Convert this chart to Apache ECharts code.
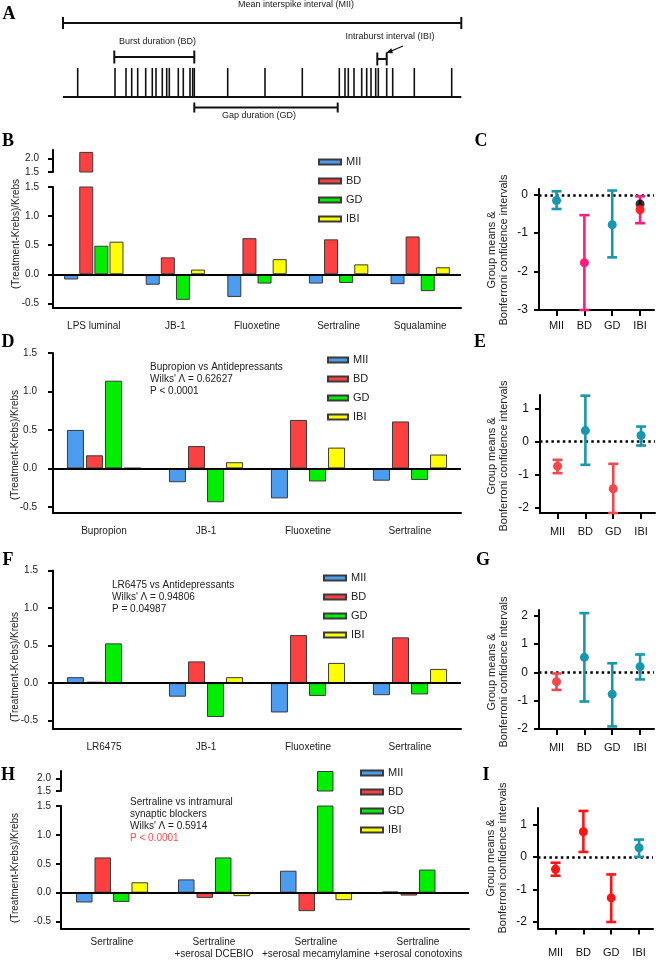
<!DOCTYPE html>
<html><head><meta charset="utf-8">
<script src="https://cdn.jsdelivr.net/npm/echarts@6/dist/echarts.min.js"></script>
<style>html,body{margin:0;padding:0;background:#fff}#c{width:660px;height:962px}</style>
</head><body><div id="c"></div>
<script>
// ---------------- DATA ----------------
// Panel A (schematic spike train, time units)
const spikeTimes = [14.7,52,63,68.7,74.7,82.7,89.3,93,99.3,103.7,106.3,115.3,120.3,127,129.7,131.3,164.7,202,239.3,276.3,282,285.3,291,298.7,303.7,308,312.7,315.3,323.7,329.7,351.3,388.7];
const spanMII = [0, 398.3];
const spanBD = [51.3, 131.3];
const spanIBI = [314.3, 323.7];
const spanGD = [131.3, 274.7];

const seriesNames = ['MII','BD','GD','IBI'];

// Panel B
const catsB = ['LPS luminal','JB-1','Fluoxetine','Sertraline','Squalamine'];
const B_MII = [-0.09,-0.18,-0.39,-0.16,-0.17];
const B_BD  = [2.25,0.29,0.62,0.60,0.65];
const B_GD  = [0.49,-0.44,-0.16,-0.15,-0.29];
const B_IBI = [0.56,0.08,0.26,0.17,0.12];

// Panel C
const statCats = ['MII','BD','GD','IBI'];
const C_mean = [-0.15,-1.77,-0.78,-0.39];
const C_low  = [-0.37,-3.0,-1.63,-0.74];
const C_high = [0.09,-0.53,0.11,-0.04];
const C_IBI_extra = -0.24;

// Panel D
const catsD = ['Bupropion','JB-1','Fluoxetine','Sertraline'];
const D_MII = [0.50,-0.18,-0.39,-0.16];
const D_BD  = [0.17,0.29,0.63,0.61];
const D_GD  = [1.14,-0.44,-0.17,-0.15];
const D_IBI = [0.005,0.08,0.27,0.18];

// Panel E
const E_mean = [-0.74,0.33,-1.42,0.18];
const E_low  = [-0.95,-0.70,-2.15,-0.12];
const E_high = [-0.55,1.38,-0.67,0.45];

// Panel F
const catsF = ['LR6475','JB-1','Fluoxetine','Sertraline'];
const F_MII = [0.08,-0.18,-0.39,-0.16];
const F_BD  = [0.02,0.29,0.64,0.61];
const F_GD  = [0.53,-0.45,-0.17,-0.15];
const F_IBI = [0.006,0.08,0.27,0.19];

// Panel G
const G_mean = [-0.33,0.53,-0.77,0.20];
const G_low  = [-0.62,-1.03,-1.91,-0.25];
const G_high = [-0.04,2.09,0.32,0.63];

// Panel H
const catsH = ['Sertraline','Sertraline\n+serosal DCEBIO','Sertraline\n+serosal mecamylamine','Sertraline\n+serosal conotoxins'];
const H_MII = [-0.17,0.23,0.38,0.02];
const H_BD  = [0.61,-0.09,-0.32,-0.05];
const H_GD  = [-0.16,0.61,2.3,0.40];
const H_IBI = [0.18,-0.06,-0.13,0];

// Panel I
const I_mean = [-0.38,0.77,-1.26,0.28];
const I_low  = [-0.58,0.15,-2.0,0.0];
const I_high = [-0.18,1.41,-0.54,0.53];

// tick values
const barTicks = [-0.5,0,0.5,1,1.5];
const breakTicks = [1.5,2.0];

// ---------------- STYLE ----------------
const FONT = '"Liberation Sans", Arial, sans-serif';
const BAR_COLORS = ['#4c9cf0','#ff4040','#00ee00','#ffff00'];
const TEAL='#1896b0', PINK='#ff1c80', REDC='#ff2222', REDE='#f4474b', REDI='#ff1414';
const C_colors = [TEAL,PINK,TEAL,REDC];
const C_bar_colors = [TEAL,PINK,TEAL,PINK];
const E_colors = [REDE,TEAL,REDE,TEAL];
const G_colors = [REDE,TEAL,TEAL,TEAL];
const I_colors = [REDI,REDI,REDI,TEAL];

const chart = echarts.init(document.getElementById('c'), null, {renderer:'canvas'});

const AX = {color:'#000', width:2};
function hiddenAxis(gi, extra){ return Object.assign({gridIndex:gi, show:false}, extra); }
function barXAxis(gi, cats, margin, show){
  return {gridIndex:gi, type:'category', data:cats, show:show,
    axisLine:{onZero:false, lineStyle:AX},
    axisTick:{alignWithLabel:true, length:6, lineStyle:AX},
    axisLabel:{interval:0, fontSize:10, color:'#222', margin:margin, fontFamily:FONT, lineHeight:11.5},
    splitLine:{show:false}};
}
function barYAxis(gi, min, max, ticks, margin){
  return {gridIndex:gi, type:'value', min:min, max:max,
    axisLine:{show:true, onZero:false, lineStyle:AX},
    axisTick:{show:true, length:5, lineStyle:AX, customValues:ticks},
    axisLabel:{customValues:ticks, formatter:v=>Number(v).toFixed(1), fontSize:10, color:'#222', margin:margin, fontFamily:FONT},
    splitLine:{show:false}};
}
function statXAxis(gi, margin){
  return {gridIndex:gi, type:'value', min:-0.63, max:3.5,
    axisLine:{show:true, onZero:false, lineStyle:AX},
    axisTick:{show:true, length:6, lineStyle:AX, customValues:[0,1,2,3]},
    axisLabel:{customValues:[0,1,2,3], formatter:v=>statCats[Math.round(v)], fontSize:11, color:'#111', margin:margin, fontFamily:FONT},
    splitLine:{show:false}};
}
function statYAxis(gi, min, max, ticks){
  return {gridIndex:gi, type:'value', min:min, max:max,
    axisLine:{show:true, onZero:false, lineStyle:AX},
    axisTick:{show:true, length:5, lineStyle:AX, customValues:ticks},
    axisLabel:{customValues:ticks, formatter:v=>String(Math.round(v)), fontSize:12, color:'#111', margin:11, fontFamily:FONT},
    splitLine:{show:false}};
}
function barSeries(gi, vals, width, gap, zero){
  return vals.map((v,k)=>({
    type:'bar', name:seriesNames[k], xAxisIndex:gi, yAxisIndex:gi, data:v,
    barWidth:width, barGap:gap, clip:true, animation:false,
    itemStyle:{color:BAR_COLORS[k], borderColor:'#3a3a3a', borderWidth:1},
    markLine:(zero && k===0)?{silent:true, symbol:['none','none'], label:{show:false}, animation:false,
      lineStyle:{color:'#000', width:2, type:'solid'}, data:[{yAxis:0}]}:undefined
  }));
}
function statSeries(gi, mean, low, high, barCols, dotCols){
  return [
    {type:'custom', xAxisIndex:gi, yAxisIndex:gi, animation:false, z:3,
      data: mean.map((m,i)=>[i, low[i], high[i]]),
      renderItem:(params, api)=>{
        const i = api.value(0);
        const t = api.coord([i, api.value(2)]);
        const b = api.coord([i, api.value(1)]);
        const c = barCols[params.dataIndex];
        const hw = 5, st = {stroke:c, lineWidth:2.6};
        return {type:'group', children:[
          {type:'line', shape:{x1:t[0],y1:t[1],x2:b[0],y2:b[1]}, style:st},
          {type:'line', shape:{x1:t[0]-hw,y1:t[1],x2:t[0]+hw,y2:t[1]}, style:st},
          {type:'line', shape:{x1:b[0]-hw,y1:b[1],x2:b[0]+hw,y2:b[1]}, style:st}
        ]};
      }},
    {type:'scatter', xAxisIndex:gi, yAxisIndex:gi, animation:false, z:4, symbolSize:9,
      data: mean.map((m,i)=>[i,m]),
      itemStyle:{color:(p)=>dotCols[p.dataIndex], opacity:1},
      markLine:{silent:true, z:1, symbol:['none','none'], label:{show:false}, animation:false,
        lineStyle:{color:'#000', width:2.5, type:[2.5,3.2]}, data:[{yAxis:0}]}}
  ];
}
function legendAt(left, top, w){
  return {data:seriesNames, orient:'vertical', left:left, top:top, padding:0, icon:'rect',
    itemWidth:w, itemHeight:5, itemGap:5, selectedMode:false,
    textStyle:{fontSize:11, lineHeight:14, color:'#222', fontFamily:FONT}};
}

// Panel A layout levels (pixels in grid 0)
const BASE = 97, SPIKE_TOP = 68;
const bracketSpans = [spanMII, spanBD, spanIBI, spanGD];
const bracketLevels = [23, 57, 59, 107.5];
const bracketHalf = [6, 6.5, 6.5, 5];

const grids = [
  {left:63, top:0, width:398, height:120},
  {left:53, top:150, width:408, height:22},
  {left:53, top:187, width:408, height:121},
  {left:539, top:189, width:115, height:121},
  {left:53, top:353, width:408, height:160},
  {left:540, top:395, width:115, height:118},
  {left:53, top:570.5, width:408, height:158.5},
  {left:539, top:610, width:115, height:119},
  {left:61, top:771, width:408, height:20},
  {left:61, top:806, width:408, height:122.5},
  {left:538, top:808, width:115, height:120.5}
].map(g=>Object.assign({containLabel:false, outerBoundsMode:'none'}, g));

const xAxes = [
  hiddenAxis(0, {type:'value', min:0, max:398}),
  barXAxis(1, catsB, 12, false),
  barXAxis(2, catsB, 12, true),
  statXAxis(3, 10),
  barXAxis(4, catsD, 12, true),
  statXAxis(5, 13),
  barXAxis(6, catsF, 12, true),
  statXAxis(7, 13),
  barXAxis(8, catsH, 9, false),
  barXAxis(9, catsH, 8, true),
  statXAxis(10, 19)
];
const yAxes = [
  hiddenAxis(0, {type:'value', min:0, max:120, inverse:true}),
  barYAxis(1, 1.5, 2.32, breakTicks, 14),
  barYAxis(2, -0.58, 1.5, barTicks, 14),
  statYAxis(3, -3, 0.15, [-3,-2,-1,0]),
  barYAxis(4, -0.58, 1.5, barTicks, 16),
  statYAxis(5, -2.15, 1.4, [-2,-1,0,1]),
  barYAxis(6, -0.61, 1.5, barTicks, 15),
  statYAxis(7, -2, 2.2, [-2,-1,0,1,2]),
  barYAxis(8, 1.5, 2.3, breakTicks, 10),
  barYAxis(9, -0.62, 1.5, barTicks, 10),
  statYAxis(10, -2.2, 1.5, [-2,-1,0,1])
];

const series = [
  // Panel A
  {type:'line', xAxisIndex:0, yAxisIndex:0, symbol:'none', animation:false,
    data:[[spanMII[0], BASE],[spanMII[1], BASE]], lineStyle:{color:'#111', width:2}},
  {type:'custom', xAxisIndex:0, yAxisIndex:0, animation:false,
    data: spikeTimes.map(t=>[t]),
    renderItem:(p, api)=>{
      const a = api.coord([api.value(0), BASE]), b = api.coord([api.value(0), SPIKE_TOP]);
      return {type:'line', shape:{x1:a[0],y1:a[1],x2:b[0],y2:b[1]}, style:{stroke:'#111', lineWidth:1.6}};
    }},
  {type:'custom', xAxisIndex:0, yAxisIndex:0, animation:false,
    data: bracketSpans.map(s=>[s[0], s[1]]),
    renderItem:(p, api)=>{
      const lv = bracketLevels[p.dataIndex], h = bracketHalf[p.dataIndex];
      const a = api.coord([api.value(0), lv]), b = api.coord([api.value(1), lv]);
      const st = {stroke:'#111', lineWidth:2};
      return {type:'group', children:[
        {type:'line', shape:{x1:a[0],y1:a[1],x2:b[0],y2:b[1]}, style:st},
        {type:'line', shape:{x1:a[0],y1:a[1]-h,x2:a[0],y2:a[1]+h}, style:st},
        {type:'line', shape:{x1:b[0],y1:b[1]-h,x2:b[0],y2:b[1]+h}, style:st}
      ]};
    }},
  ...barSeries(1, [B_MII,B_BD,B_GD,B_IBI], 14, '8%', false),
  ...barSeries(2, [B_MII,B_BD,B_GD,B_IBI], 14, '8%', true),
  ...statSeries(3, C_mean, C_low, C_high, C_bar_colors, C_colors),
  {type:'scatter', xAxisIndex:3, yAxisIndex:3, animation:false, z:3.5, symbolSize:9,
    data:[[3, C_IBI_extra]], itemStyle:{color:'#000'}},
  ...barSeries(4, [D_MII,D_BD,D_GD,D_IBI], 17, '12%', true),
  ...statSeries(5, E_mean, E_low, E_high, E_colors, E_colors),
  ...barSeries(6, [F_MII,F_BD,F_GD,F_IBI], 17, '12%', true),
  ...statSeries(7, G_mean, G_low, G_high, G_colors, G_colors),
  ...barSeries(8, [H_MII,H_BD,H_GD,H_IBI], 16.5, '12%', false),
  ...barSeries(9, [H_MII,H_BD,H_GD,H_IBI], 16.5, '12%', true),
  ...statSeries(10, I_mean, I_low, I_high, I_colors, I_colors)
];

function txt(x, y, text, o){
  o = o || {};
  return {type:'text', x:x, y:y, rotation:o.rot||0, silent:true, z:10,
    style:{text:text, fill:o.fill||'#222', fontSize:o.size||10, fontFamily:o.family||FONT,
      fontWeight:o.weight||'normal', lineHeight:o.lh||12,
      textAlign:o.align||'left', align:o.align||'left', textVerticalAlign:'middle', verticalAlign:'middle'}};
}
function letter(x, y, t){ return txt(x, y, t, {size:18, family:'"Liberation Serif", "Times New Roman", serif', weight:'bold', fill:'#000', align:'center'}); }
const YNAME = '(Treatment-Krebs)/Krebs';
const SNAME = 'Group means &\nBonferroni confidence intervals';
const graphic = [
  letter(9,14,'A'), letter(8,141,'B'), letter(481,141,'C'), letter(8,342,'D'), letter(480,342,'E'),
  letter(8,560,'F'), letter(483,560,'G'), letter(8,775,'H'), letter(486,775,'I'),
  txt(296,5,'Mean interspike interval (MII)', {size:9, align:'center'}),
  txt(157.5,42,'Burst duration (BD)', {size:9, align:'center'}),
  txt(390,37,'Intraburst interval (IBI)', {size:9, align:'center'}),
  txt(259,116,'Gap duration (GD)', {size:9, align:'center'}),
  {type:'polyline', silent:true, shape:{points:[[403,46],[390,51.5]]}, style:{stroke:'#111', lineWidth:1.3, fill:null}},
  {type:'polygon', silent:true, shape:{points:[[386,53],[393,53.3],[391.3,48.2]]}, style:{fill:'#111'}},
  txt(16,234,YNAME,{rot:Math.PI/2, align:'center'}),
  txt(15,445,YNAME,{rot:Math.PI/2, align:'center'}),
  txt(15,667,YNAME,{rot:Math.PI/2, align:'center'}),
  txt(15,868,YNAME,{rot:Math.PI/2, align:'center'}),
  txt(498,250,SNAME,{rot:Math.PI/2, align:'center', size:11, lh:12.5}),
  txt(498,456,SNAME,{rot:Math.PI/2, align:'center', size:11, lh:12.5}),
  txt(498,672,SNAME,{rot:Math.PI/2, align:'center', size:11, lh:12.5}),
  txt(497,858,SNAME,{rot:Math.PI/2, align:'center', size:11, lh:12.5}),
  txt(150,367,'Bupropion vs Antidepressants'),
  txt(150,379,"Wilks' \u039B = 0.62627"),
  txt(150,391,'P < 0.0001'),
  txt(112,585,'LR6475 vs Antidepressants'),
  txt(112,597,"Wilks' \u039B = 0.94806"),
  txt(112,609,'P = 0.04987'),
  txt(130,802,'Sertraline vs intramural'),
  txt(130,814,'synaptic blockers'),
  txt(130,826,"Wilks' \u039B = 0.5914"),
  txt(130,838,'P < 0.0001',{fill:'#ff4d4d'})
];

chart.setOption({
  animation:false,
  textStyle:{fontFamily:FONT},
  grid:grids, xAxis:xAxes, yAxis:yAxes,
  legend:[legendAt(318,155,22), legendAt(327,353,20), legendAt(323,571,22), legendAt(360,766,22)],
  series:series,
  graphic:graphic
});
</script>
</body></html>
